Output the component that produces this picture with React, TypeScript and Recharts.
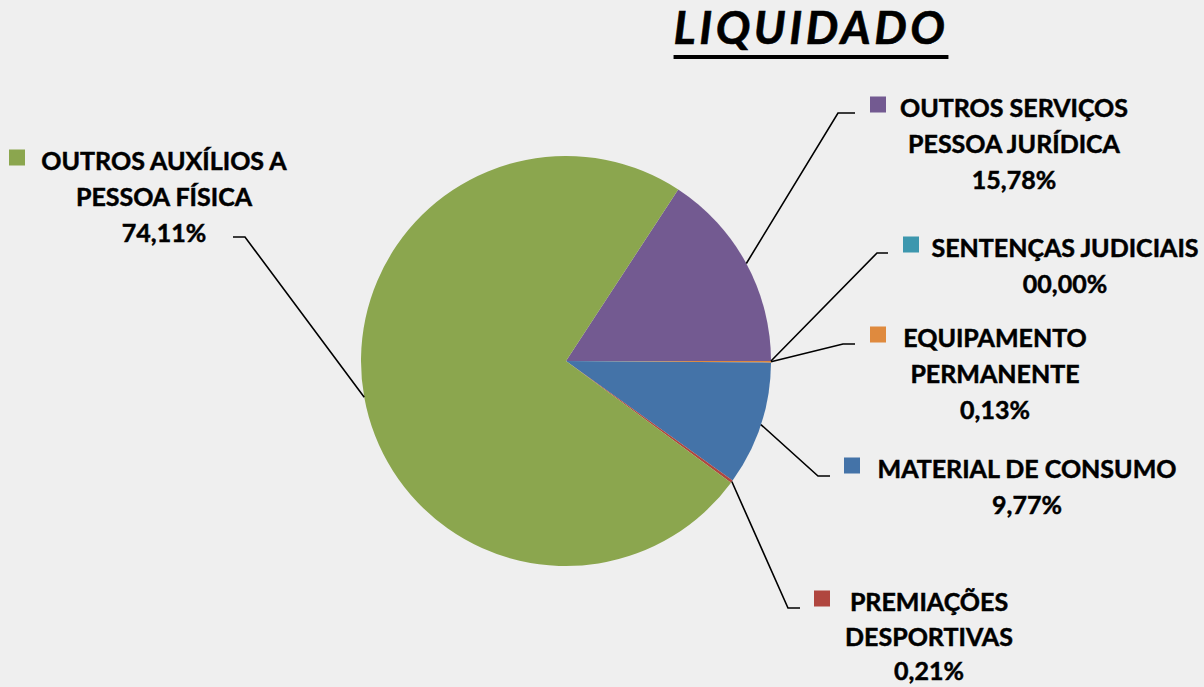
import React from 'react';
import { PieChart, Pie, Cell } from 'recharts';

// slice order runs clockwise from the purple slice
const categories = [
  'OUTROS SERVIÇOS\nPESSOA JURÍDICA',
  'SENTENÇAS JUDICIAIS',
  'EQUIPAMENTO\nPERMANENTE',
  'MATERIAL DE CONSUMO',
  'PREMIAÇÕES\nDESPORTIVAS',
  'OUTROS AUXÍLIOS A\nPESSOA FÍSICA',
];
const values = [15.78, 0, 0.13, 9.77, 0.21, 74.11];
const pctLabels = ['15,78%', '00,00%', '0,13%', '9,77%', '0,21%', '74,11%'];
const colors = ['#735A91', '#3D97AE', '#DF8A3E', '#4473A8', '#B0463F', '#8BA64E'];

const data = categories.map((name, i) => ({ name, value: values[i], pct: pctLabels[i] }));

// where each callout sits (leader elbow, text centre, key square, line spacing)
const labelLayout = [
  { elbow: [838, 113], end: [855, 113], tx: 1014, ty: 107, sx: 870, lh: 36 },
  { elbow: [877, 253], end: [888, 253], tx: 1065, ty: 247, sx: 903, lh: 36 },
  { elbow: [843, 344], end: [855, 344], tx: 995, ty: 337, sx: 870, lh: 36 },
  { elbow: [818, 476], end: [830, 476], tx: 1027, ty: 468, sx: 844, lh: 36 },
  { elbow: [788, 608], end: [800, 608], tx: 929, ty: 601, sx: 814, lh: 34.5 },
  { elbow: [245, 237], end: [233, 237], tx: 164, ty: 160, sx: 9, lh: 36 },
];

const RADIAN = Math.PI / 180;
const FONT = 'Lato, "Open Sans", sans-serif';

function renderCallout(props: any) {
  const { cx, cy, midAngle, outerRadius, index } = props;
  const lay = labelLayout[index];
  if (!lay) return null;
  const sx = cx + outerRadius * Math.cos(-midAngle * RADIAN);
  const sy = cy + outerRadius * Math.sin(-midAngle * RADIAN);
  const lines = [...data[index].name.split('\n'), data[index].pct];
  return (
    <g key={`callout-${index}`}>
      <polyline
        points={`${sx},${sy} ${lay.elbow[0]},${lay.elbow[1]} ${lay.end[0]},${lay.end[1]}`}
        fill="none" stroke="#000" strokeWidth={1.6} />
      <rect x={lay.sx} y={lay.ty - 10.5} width={16} height={16} fill={colors[index]} />
      {lines.map((ln, j) => (
        <text key={j} x={lay.tx} y={lay.ty + j * lay.lh} textAnchor="middle"
          dominantBaseline="central" fontFamily={FONT} fontWeight={700}
          fontSize={25} fill="#000" stroke="#000" strokeWidth={0.5}>
          {ln}
        </text>
      ))}
    </g>
  );
}

export default function App() {
  return (
    <div style={{ position: 'absolute', left: 0, top: 0, width: 1204, height: 687,
      background: '#efefef', overflow: 'hidden' }}>
      <div style={{ position: 'absolute', left: 561, top: 2, width: 500, textAlign: 'center',
        fontFamily: FONT, fontWeight: 700, fontStyle: 'italic', fontSize: 46, lineHeight: '50px',
        letterSpacing: '3.5px',
        textDecoration: 'underline', textDecorationThickness: '4px', textUnderlineOffset: '11px',
        color: '#000', WebkitTextStroke: '0.6px #000' }}>
        LIQUIDADO
      </div>
      <PieChart width={1204} height={687} margin={{ top: 0, right: 0, bottom: 0, left: 0 }}
        style={{ position: 'absolute', left: 0, top: 0 }}>
        <Pie data={data} dataKey="value" cx={566} cy={361} outerRadius={205} innerRadius={0}
          startAngle={56.808} endAngle={56.808 - 360} stroke="none"
          label={renderCallout} labelLine={false} isAnimationActive={false}>
          {data.map((entry, i) => (
            <Cell key={`cell-${entry.name}`} fill={colors[i]} />
          ))}
        </Pie>
      </PieChart>
    </div>
  );
}
